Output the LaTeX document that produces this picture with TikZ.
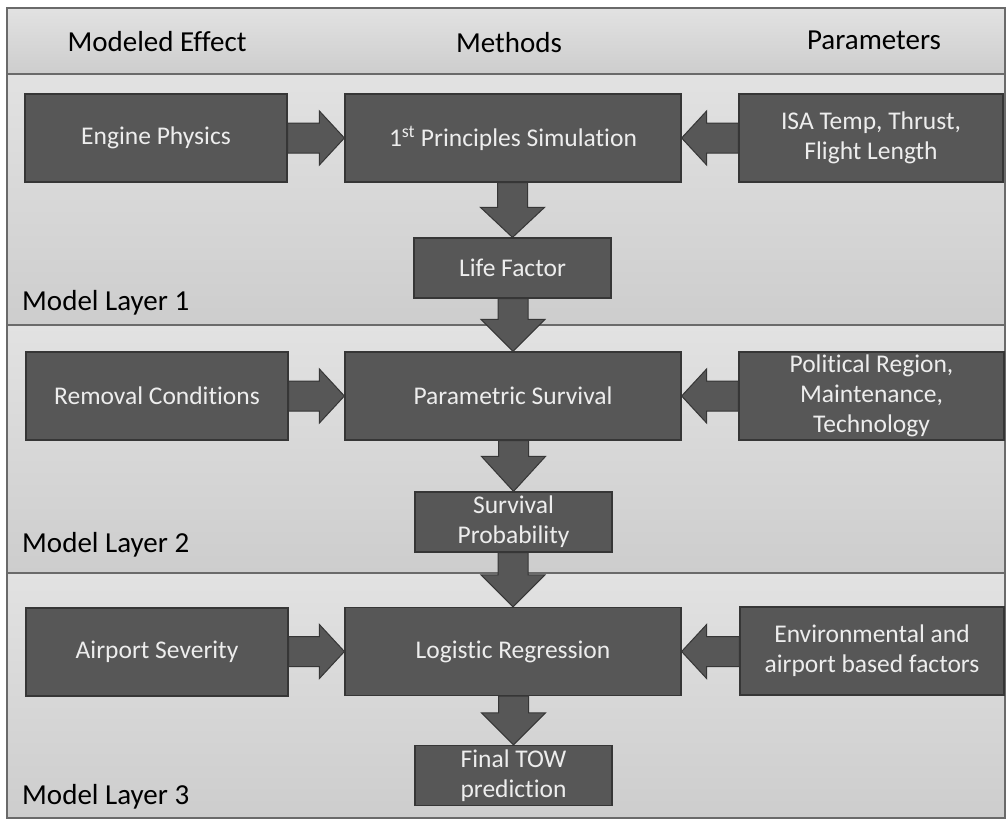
\documentclass[tikz,border=0pt]{standalone}
\usepackage{fontspec}
\setmainfont{Carlito}[Ligatures=NoCommon]
\usetikzlibrary{calc}
\definecolor{boxfill}{HTML}{575757}
\definecolor{boxline}{HTML}{363636}
\definecolor{boxtext}{HTML}{EDEDED}
\definecolor{bandtop}{HTML}{E2E2E2}
\definecolor{bandbot}{HTML}{CDCDCD}
\definecolor{rulecol}{HTML}{6A6A6A}
\tikzset{
  blockbox/.style={draw=boxline, line width=1.2pt, fill=boxfill, text=boxtext,
    font=\fontsize{25.5}{30}\selectfont, align=center, inner sep=0pt,
    minimum width=#1, minimum height=88},
  blockbox/.default=262,
  smallbox/.style={blockbox=197, minimum height=60},
  blockarrow/.style={draw=boxline, line width=1pt, fill=boxfill, line join=miter},
  headtext/.style={font=\fontsize{29}{34}\selectfont, text=black, inner sep=0pt, anchor=base},
  layertext/.style={font=\fontsize{29}{34}\selectfont, text=black, inner sep=0pt, anchor=base west},
  band/.style={top color=bandtop, bottom color=bandbot, draw=none},
  bandrule/.style={draw=rulecol, line width=2.2pt}
}
% right-pointing block arrow between two nodes
\newcommand\rightblock[2]{%
  \path[blockarrow] let \p1=(#1.east), \p2=(#2.west) in
    (\x1,\y2+15) -- (\x2-25,\y2+15) -- (\x2-25,\y2+27) -- (\x2,\y2)
    -- (\x2-25,\y2-27) -- (\x2-25,\y2-15) -- (\x1,\y2-15) -- cycle;}
% left-pointing block arrow between two nodes
\newcommand\leftblock[2]{%
  \path[blockarrow] let \p1=(#1.west), \p2=(#2.east) in
    (\x1,\y2+15) -- (\x2+25,\y2+15) -- (\x2+25,\y2+27) -- (\x2,\y2)
    -- (\x2+25,\y2-27) -- (\x2+25,\y2-15) -- (\x1,\y2-15) -- cycle;}
% downward block arrow between two nodes
\newcommand\downblock[3]{%
  \path[blockarrow] let \p1=(#1.south), \p2=(#2.north) in
    (\x2-15,\y1) -- (\x2-15,\y2+#3) -- (\x2-32,\y2+#3) -- (\x2,\y2)
    -- (\x2+32,\y2+#3) -- (\x2+15,\y2+#3) -- (\x2+15,\y1) -- cycle;}
\begin{document}
\begin{tikzpicture}[x=1pt,y=-1pt]
\useasboundingbox (0,0) rectangle (1008,822);
\fill[white] (0,0) rectangle (1008,822);
% bands
\path[band] (7,8) rectangle (1005,74);
\path[band] (7,74) rectangle (1005,325);
\path[band] (7,325) rectangle (1005,573);
\path[band] (7,573) rectangle (1005,818);
\draw[bandrule] (7,74) -- (1005,74);
\draw[bandrule] (7,325) -- (1005,325);
\draw[bandrule] (7,573) -- (1005,573);
\draw[draw=rulecol, line width=1.4pt] (7,8) rectangle (1005,818);

% column headings
\node[headtext] (h1) at (157,51) {Modeled Effect};
\node[headtext] (h2) at (509,52) {Methods};
\node[headtext] (h3) at (874,49) {Parameters};

% layer labels
\node[layertext] (l1) at (22,310) {Model Layer 1};
\node[layertext] (l2) at (22,552) {Model Layer 2};
\node[layertext] (l3) at (22,804) {Model Layer 3};

% layer 1
\node[blockbox] (ep) at (156,138) {Engine Physics};
\node[blockbox=336] (ps) at (513,138) {1\textsuperscript{st} Principles Simulation};
\node[blockbox=264] (isa) at (871,138) {ISA Temp, Thrust,\\Flight Length};
\node[smallbox] (lf) at (512.5,268) {Life Factor};

% layer 2
\node[blockbox] (rc) at (157,396) {Removal Conditions};
\node[blockbox=336] (pv) at (513,396) {Parametric Survival};
\node[blockbox=265] (pr) at (871.5,396) {Political Region,\\Maintenance,\\Technology};
\node[smallbox] (sp) at (513.5,522) {Survival\\Probability};

% layer 3
\node[blockbox] (as) at (157,652) {Airport Severity};
\node[blockbox=336] (lr) at (513,651.5) {Logistic Regression};
\node[blockbox=264] (env) at (872,651) {Environmental and\\airport based factors};
\node[smallbox] (tow) at (513.5,775.5) {Final TOW\\prediction};

% connectors
\rightblock{ep}{ps}
\leftblock{isa}{ps}
\downblock{ps}{lf}{30}
\downblock{lf}{pv}{32}
\rightblock{rc}{pv}
\leftblock{pr}{pv}
\downblock{pv}{sp}{35}
\downblock{sp}{lr}{32}
\rightblock{as}{lr}
\leftblock{env}{lr}
\downblock{lr}{tow}{32}
\end{tikzpicture}
\end{document}
